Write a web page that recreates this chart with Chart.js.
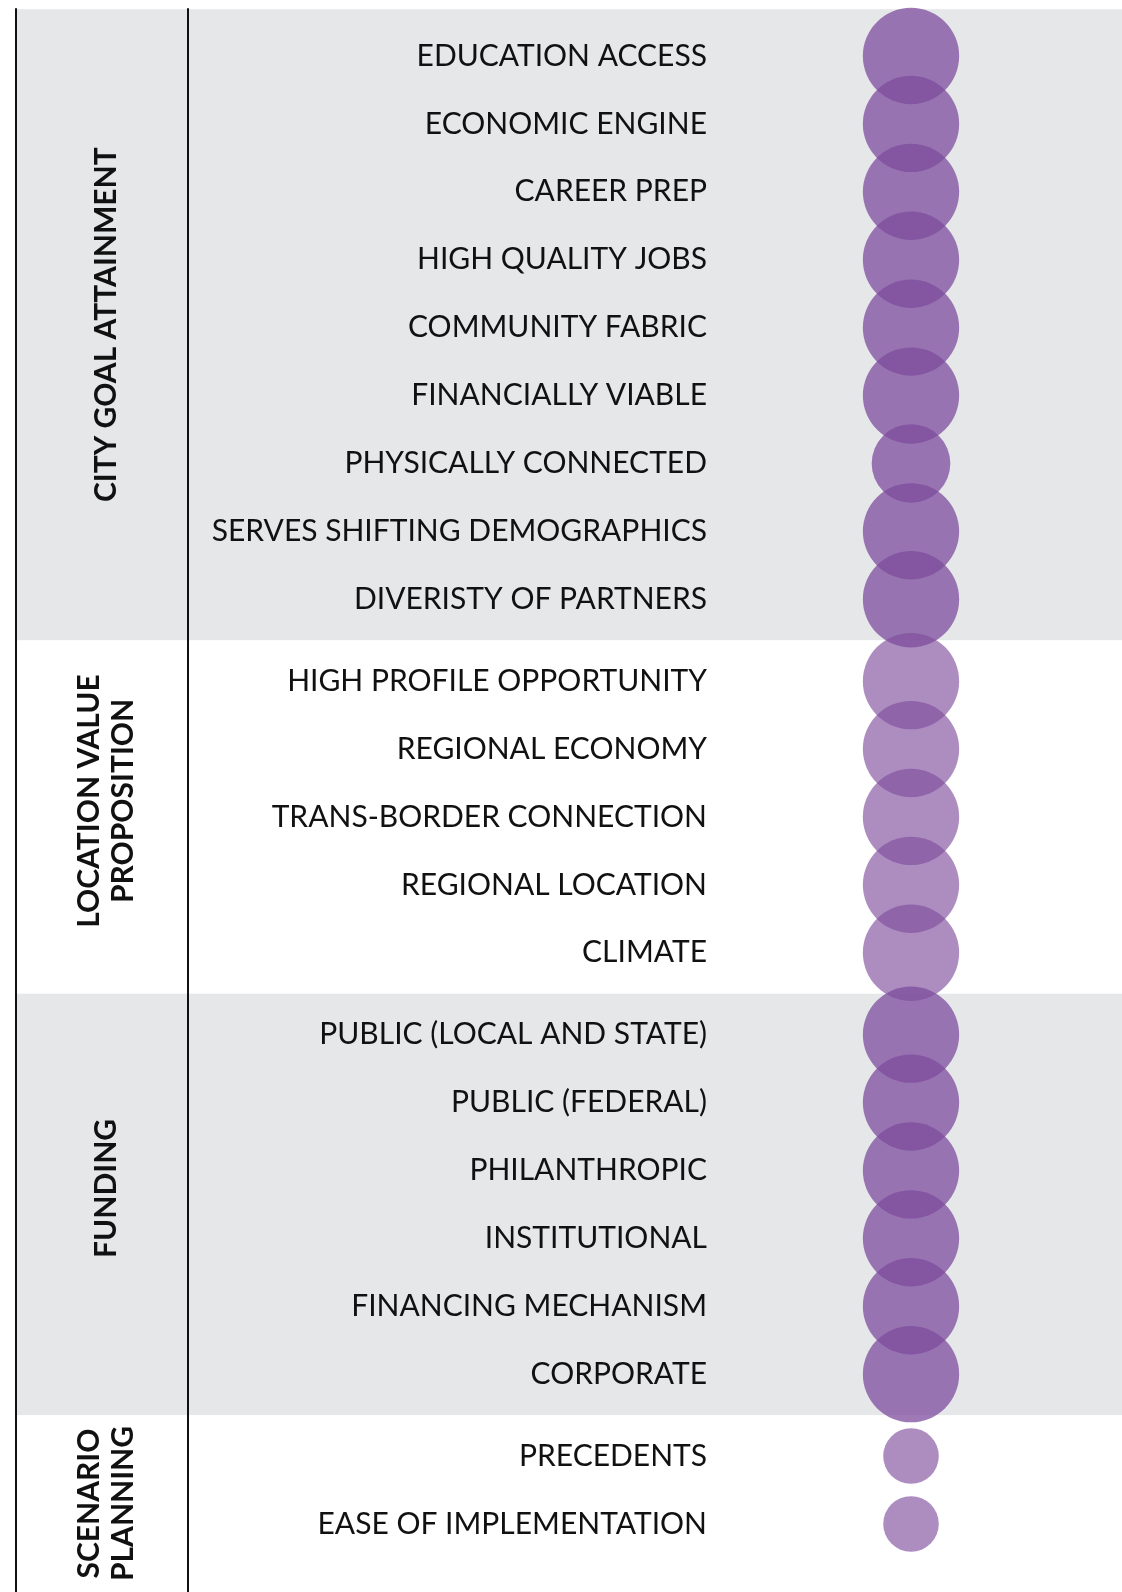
<!DOCTYPE html>
<html>
<head>
<meta charset="utf-8">
<script src="https://cdn.jsdelivr.net/npm/chart.js@4.4.0/dist/chart.umd.min.js"></script>
<style>
    html, body { margin: 0; padding: 0; background: #ffffff; }
    #wrap { width: 1122px; height: 1592px; position: relative; }
</style>
</head>
<body>
<div id="wrap"><canvas id="bubbleChart" width="1122" height="1592"></canvas></div>
<script>
// Datos
const groupNames = [
    ['CITY GOAL ATTAINMENT'],
    ['LOCATION VALUE', 'PROPOSITION'],
    ['FUNDING'],
    ['SCENARIO', 'PLANNING']
];
const cityItems = ['EDUCATION ACCESS', 'ECONOMIC ENGINE', 'CAREER PREP', 'HIGH QUALITY JOBS',
    'COMMUNITY FABRIC', 'FINANCIALLY VIABLE', 'PHYSICALLY CONNECTED',
    'SERVES SHIFTING DEMOGRAPHICS', 'DIVERISTY OF PARTNERS'];
const cityScores = [3, 3, 3, 3, 3, 3, 2, 3, 3];
const locationItems = ['HIGH PROFILE OPPORTUNITY', 'REGIONAL ECONOMY', 'TRANS-BORDER CONNECTION',
    'REGIONAL LOCATION', 'CLIMATE'];
const locationScores = [3, 3, 3, 3, 3];
const fundingItems = ['PUBLIC (LOCAL AND STATE)', 'PUBLIC (FEDERAL)', 'PHILANTHROPIC',
    'INSTITUTIONAL', 'FINANCING MECHANISM', 'CORPORATE'];
const fundingScores = [3, 3, 3, 3, 3, 3];
const scenarioItems = ['PRECEDENTS', 'EASE OF IMPLEMENTATION'];
const scenarioScores = [1, 1];

const groupItems = [cityItems, locationItems, fundingItems, scenarioItems];
const groupScores = [cityScores, locationScores, fundingScores, scenarioScores];

// Layout de filas (espacio extra entre grupos)
const GROUP_GAP = 0.206;
const rows = [];          // {label, score, group, pos}
const groupRanges = [];   // {first, last}
let pos = 0;
groupItems.forEach((items, g) => {
    if (g > 0) pos += GROUP_GAP;
    const first = pos;
    items.forEach((label, i) => {
        rows.push({ label, score: groupScores[g][i], group: g, pos });
        pos += 1;
    });
    groupRanges.push({ first, last: pos - 1 });
});
const labelByPos = new Map(rows.map(r => [r.pos.toFixed(3), r.label]));

// Límites de las bandas
function bandBounds(g) {
    const r = groupRanges[g];
    const top = g === 0 ? r.first - 0.69 : (groupRanges[g - 1].last + r.first) / 2;
    const bottom = g === groupRanges.length - 1 ? null : (r.last + groupRanges[g + 1].first) / 2;
    return { top, bottom };
}

const PURPLE_DARK = 'rgba(126, 76, 157, 0.75)';
const PURPLE_LIGHT = 'rgba(126, 76, 157, 0.64)';
const SHADED = [true, false, true, false];

// Plugin: bandas grises, líneas y títulos de grupo
const sectionPlugin = {
    id: 'sections',
    beforeDraw(chart) {
        const { ctx, scales: { y }, width, height } = chart;
        ctx.save();
        ctx.fillStyle = '#ffffff';
        ctx.fillRect(0, 0, width, height);
        groupRanges.forEach((r, g) => {
            if (!SHADED[g]) return;
            const b = bandBounds(g);
            const y0 = y.getPixelForValue(b.top);
            const y1 = b.bottom === null ? height : y.getPixelForValue(b.bottom);
            ctx.fillStyle = '#e6e7e9';
            ctx.fillRect(16, y0, width - 16, y1 - y0);
        });
        ctx.restore();
    },
    afterDraw(chart) {
        const { ctx, scales: { y }, height } = chart;
        ctx.save();
        // líneas verticales
        ctx.strokeStyle = '#111111';
        ctx.lineWidth = 2;
        const lineTop = y.getPixelForValue(bandBounds(0).top) - 1;
        [16, 188].forEach(x => {
            ctx.beginPath();
            ctx.moveTo(x, lineTop);
            ctx.lineTo(x, height);
            ctx.stroke();
        });
        // títulos de grupo
        ctx.fillStyle = '#111111';
        ctx.font = 'bold 30px Lato, "Open Sans", sans-serif';
        ctx.textAlign = 'center';
        ctx.textBaseline = 'middle';
        groupNames.forEach((lines, g) => {
            const b = bandBounds(g);
            const y0 = y.getPixelForValue(b.top);
            const y1 = b.bottom === null ? height : y.getPixelForValue(b.bottom);
            const cy = (y0 + y1) / 2 + (g === 1 ? -16 : (g === 2 ? -16 : 0));
            const lh = 34;
            ctx.save();
            ctx.translate(106, cy);
            ctx.rotate(-Math.PI / 2);
            lines.forEach((txt, i) => {
                ctx.fillText(txt, 0, (i - (lines.length - 1) / 2) * lh);
            });
            ctx.restore();
        });
        ctx.restore();
    }
};

const ctx = document.getElementById('bubbleChart').getContext('2d');
const bubbleChart = new Chart(ctx, {
    type: 'bubble',
    data: {
        datasets: [{
            data: rows.map(r => ({ x: 1, y: r.pos, score: r.score })),
            backgroundColor: c => SHADED[rows[c.dataIndex].group] ? PURPLE_DARK : PURPLE_LIGHT,
            borderWidth: 0,
            radius: c => 27.8 * Math.sqrt(rows[c.dataIndex].score),
            hoverRadius: 0,
            clip: false
        }]
    },
    options: {
        responsive: false,
        animation: false,
        events: [],
        layout: { autoPadding: false, padding: { top: 0, bottom: 0, left: 0, right: 20 } },
        plugins: {
            legend: { display: false },
            tooltip: { enabled: false }
        },
        scales: {
            x: {
                display: false,
                min: 0,
                max: 2
            },
            y: {
                reverse: true,
                min: -0.825,
                max: 22.62,
                grid: { display: false, drawTicks: false },
                border: { display: false },
                afterFit(scale) {
                    scale.width = 720;
                    scale.paddingTop = 0;
                    scale.paddingBottom = 0;
                },
                afterBuildTicks(scale) {
                    scale.ticks = rows.map(r => ({ value: r.pos }));
                },
                ticks: {
                    autoSkip: false,
                    padding: 13,
                    color: '#111111',
                    font: { family: 'Lato, "Open Sans", sans-serif', size: 30, weight: '400' },
                    callback: v => labelByPos.get(Number(v).toFixed(3)) || ''
                }
            }
        }
    },
    plugins: [sectionPlugin]
});
</script>
</body>
</html>
